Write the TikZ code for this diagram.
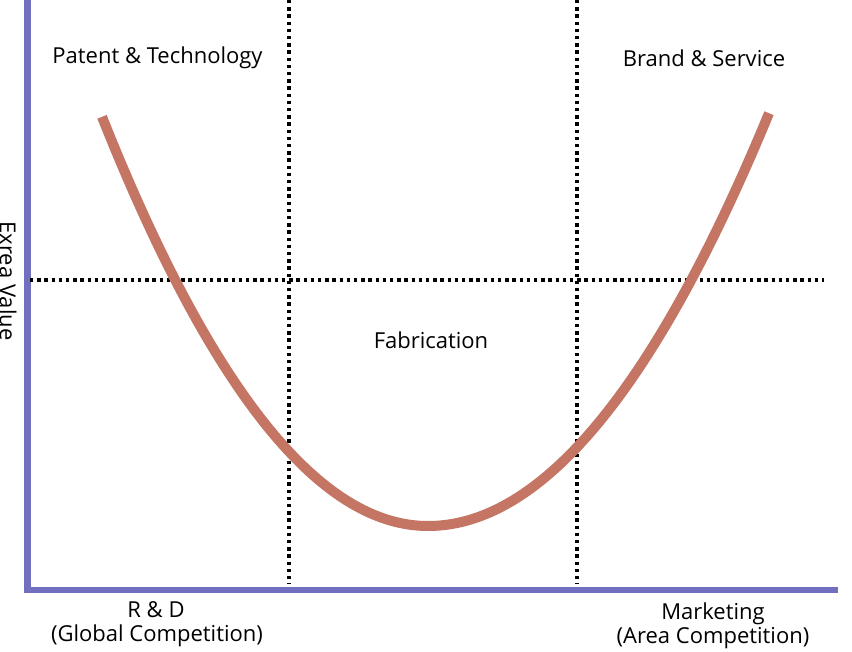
\documentclass[tikz,border=0pt]{standalone}
\usepackage{fontspec}
\setmainfont{Open Sans}
\definecolor{curvecol}{RGB}{196,117,100}
\definecolor{axiscol}{RGB}{112,112,190}
\begin{document}
\begin{tikzpicture}[x=1pt,y=-1pt,
  lbl/.style={font=\fontsize{22}{26}\selectfont, inner sep=0pt, anchor=base, text=black},
  axisline/.style={draw=axiscol, line width=6.5pt},
  dotline/.style={draw=black, line width=3.4pt, dash pattern=on 3.4pt off 3.8pt},
  valuecurve/.style={draw=curvecol, line width=10pt}]
\useasboundingbox[fill=white] (0,0) rectangle (852,652);
% axes
\coordinate (ytop) at (27.5,0);
\coordinate (origin) at (27.5,590);
\coordinate (xend) at (838,590);
\draw[axisline, line join=miter] (ytop) -- (origin) -- (xend);
% dotted guide lines
\coordinate (v1t) at (289,0); \coordinate (v1b) at (289,584);
\coordinate (v2t) at (577,0); \coordinate (v2b) at (577,584);
\coordinate (hl) at (30,280); \coordinate (hr) at (824,280);
\draw[dotline] (v1t) -- (v1b);
\draw[dotline] (v2t) -- (v2b);
\draw[dotline] (hl) -- (hr);
% smile curve
\draw[valuecurve]
  plot[domain=102:428, samples=90] (\x,{526-38.5*((428-\x)/100)^2})
  -- plot[domain=428:769, samples=90] (\x,{526-35.5*((\x-428)/100)^2});
% labels
\node[lbl] (pt) at (157.5,64) {Patent \& Technology};
\node[lbl] (bs) at (704,67) {Brand \& Service};
\node[lbl] (fab) at (431,349) {Fabrication};
\node[lbl] (rd) at (156,617) {R \& D};
\node[lbl] (gc) at (157,641) {(Global Competition)};
\node[lbl] (mk) at (713,619) {Marketing};
\node[lbl] (ac) at (713,643) {(Area Competition)};
\node[font=\fontsize{22}{26}\selectfont, inner sep=0pt, rotate=-90] (ev) at (8,281) {Exrea Value};
\end{tikzpicture}
\end{document}
